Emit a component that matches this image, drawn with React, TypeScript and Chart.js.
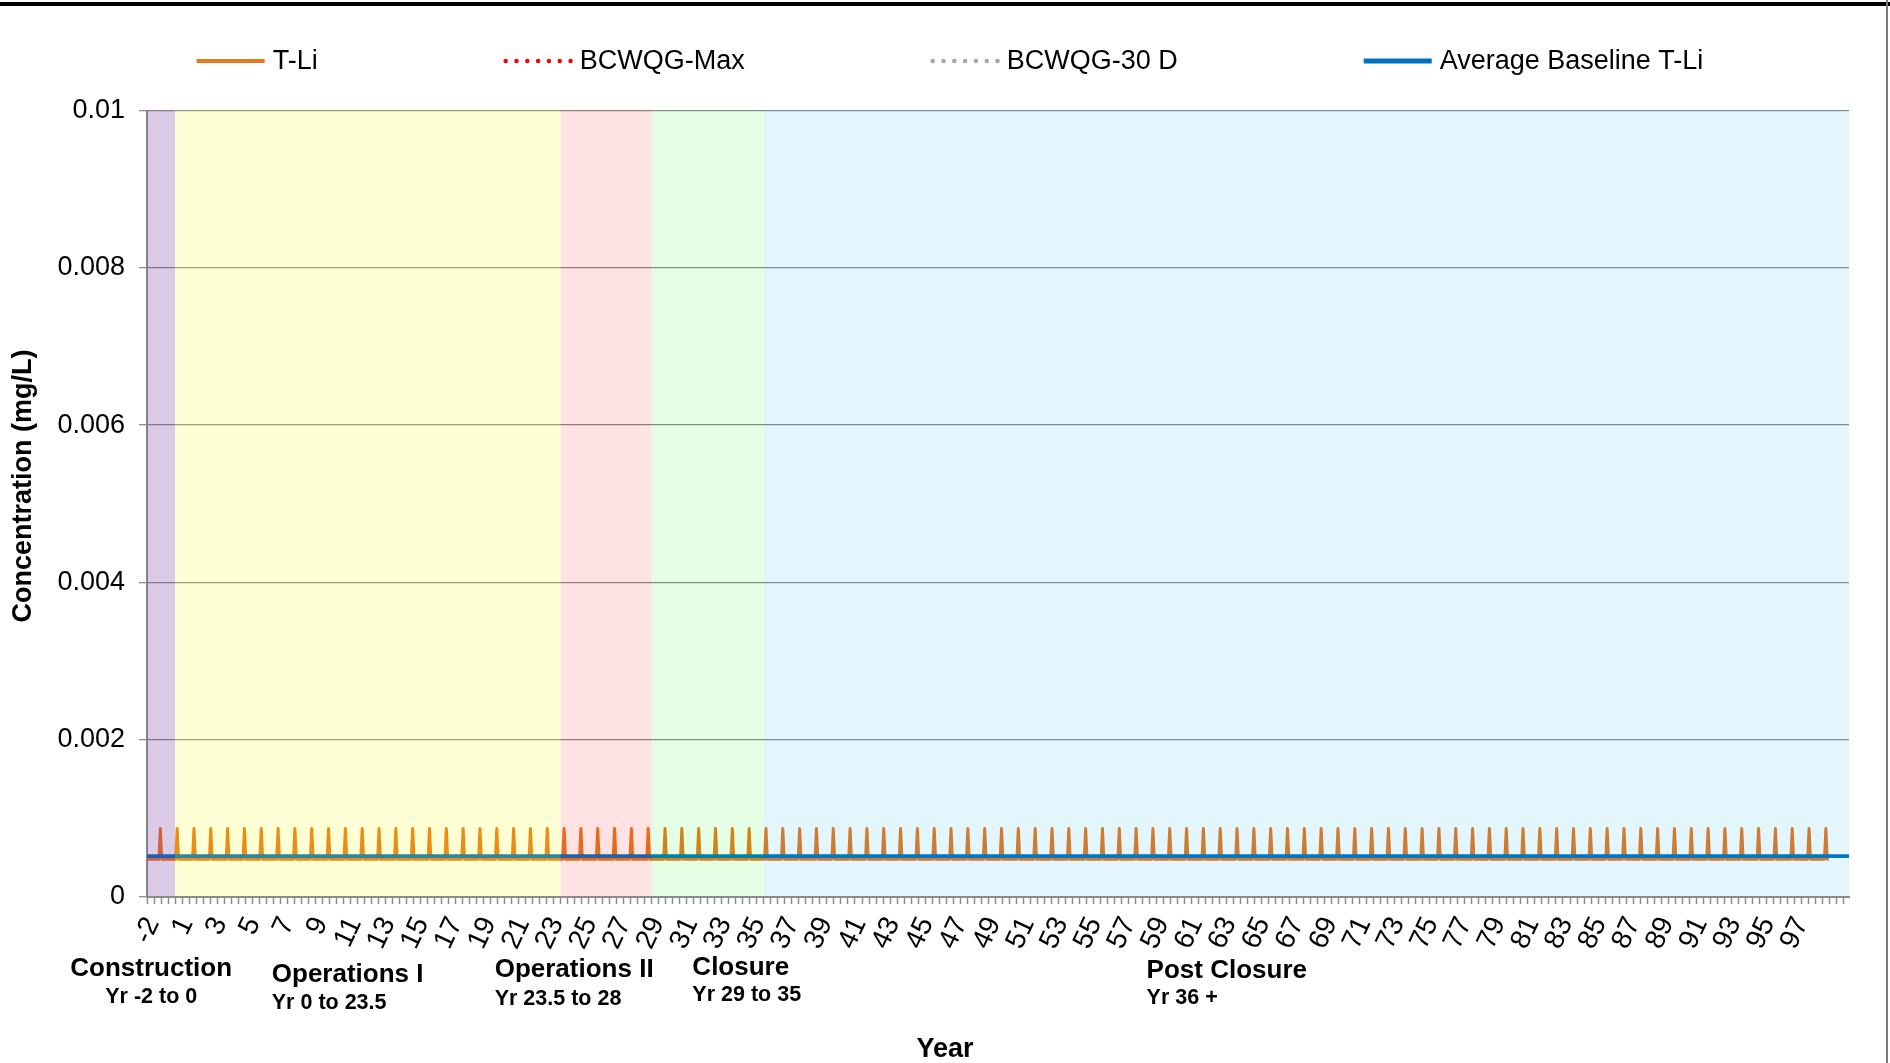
import React, { useEffect, useRef } from 'react';
import { Chart, registerables } from 'chart.js';

Chart.register(...registerables);

// ---------- data ----------
const seriesNames = ['T-Li', 'BCWQG-Max', 'BCWQG-30 D', 'Average Baseline T-Li'];

// x-axis tick labels (one every 24 monthly categories)
const xTickLabels = [
  '-2', '1', '3', '5', '7', '9', '11', '13', '15', '17', '19', '21', '23', '25', '27', '29', '31',
  '33', '35', '37', '39', '41', '43', '45', '47', '49', '51', '53', '55', '57', '59', '61', '63',
  '65', '67', '69', '71', '73', '75', '77', '79', '81', '83', '85', '87', '89', '91', '93', '95', '97',
];
const yTickLabels = ['0', '0.002', '0.004', '0.006', '0.008', '0.01'];

// T-Li (mg/L): yearly peak and low-flow level, one value per simulated year (100 years)
const tliPeak = [
  0.00087, 0.00087, 0.00087, 0.00087, 0.00087, 0.00087, 0.00087, 0.00087, 0.00087, 0.00087,
  0.00087, 0.00087, 0.00087, 0.00087, 0.00087, 0.00087, 0.00087, 0.00087, 0.00087, 0.00087,
  0.00087, 0.00087, 0.00087, 0.00087, 0.00087, 0.00087, 0.00087, 0.00087, 0.00087, 0.00087,
  0.00087, 0.00087, 0.00087, 0.00087, 0.00087, 0.00087, 0.00087, 0.00087, 0.00087, 0.00087,
  0.00087, 0.00087, 0.00087, 0.00087, 0.00087, 0.00087, 0.00087, 0.00087, 0.00087, 0.00087,
  0.00087, 0.00087, 0.00087, 0.00087, 0.00087, 0.00087, 0.00087, 0.00087, 0.00087, 0.00087,
  0.00087, 0.00087, 0.00087, 0.00087, 0.00087, 0.00087, 0.00087, 0.00087, 0.00087, 0.00087,
  0.00087, 0.00087, 0.00087, 0.00087, 0.00087, 0.00087, 0.00087, 0.00087, 0.00087, 0.00087,
  0.00087, 0.00087, 0.00087, 0.00087, 0.00087, 0.00087, 0.00087, 0.00087, 0.00087, 0.00087,
  0.00087, 0.00087, 0.00087, 0.00087, 0.00087, 0.00087, 0.00087, 0.00087, 0.00087, 0.00087,
];
const tliLow = [
  0.00048, 0.00048, 0.00048, 0.00048, 0.00048, 0.00048, 0.00048, 0.00048, 0.00048, 0.00048,
  0.00048, 0.00048, 0.00048, 0.00048, 0.00048, 0.00048, 0.00048, 0.00048, 0.00048, 0.00048,
  0.00048, 0.00048, 0.00048, 0.00048, 0.00048, 0.00048, 0.00048, 0.00048, 0.00048, 0.00048,
  0.00048, 0.00048, 0.00048, 0.00048, 0.00048, 0.00048, 0.00048, 0.00048, 0.00048, 0.00048,
  0.00048, 0.00048, 0.00048, 0.00048, 0.00048, 0.00048, 0.00048, 0.00048, 0.00048, 0.00048,
  0.00048, 0.00048, 0.00048, 0.00048, 0.00048, 0.00048, 0.00048, 0.00048, 0.00048, 0.00048,
  0.00048, 0.00048, 0.00048, 0.00048, 0.00048, 0.00048, 0.00048, 0.00048, 0.00048, 0.00048,
  0.00048, 0.00048, 0.00048, 0.00048, 0.00048, 0.00048, 0.00048, 0.00048, 0.00048, 0.00048,
  0.00048, 0.00048, 0.00048, 0.00048, 0.00048, 0.00048, 0.00048, 0.00048, 0.00048, 0.00048,
  0.00048, 0.00048, 0.00048, 0.00048, 0.00048, 0.00048, 0.00048, 0.00048, 0.00048, 0.00048,
];
const tliPeakMonth = 9; // month (0-11) of the yearly peak
const baselineTLi = [0.00052, 0.00052]; // constant average baseline, start & end of axis
const bcwqgMax: number[] = []; // guideline values lie above the plotted range
const bcwqg30d: number[] = [];

// mine phases (in monthly categories along the x axis)
const phaseNames = ['Construction', 'Operations I', 'Operations II', 'Closure', 'Post Closure'];
const phaseRanges = ['Yr -2 to 0', 'Yr 0 to 23.5', 'Yr 23.5 to 28', 'Yr 29 to 35', 'Yr 36 +'];
const phaseStarts = [0, 20, 295, 360, 440];
const axisEnd = 1214;

// ---------- styles / layout ----------
const FONT = '"Liberation Sans", Arial, sans-serif';
const phaseColors = [
  'rgba(112,48,160,0.25)',
  'rgba(255,255,0,0.16)',
  'rgba(255,0,0,0.11)',
  'rgba(0,255,0,0.10)',
  'rgba(0,176,240,0.11)',
];
const phaseLabelAt = [3, 89, 248, 389, 713];
const phaseLabelAlign: CanvasTextAlign[] = ['center', 'left', 'left', 'left', 'left'];
const phaseTitleDy = [72, 78, 73, 71, 74];
const phaseSubDy = [100, 106, 102, 98, 101];

const legendStyles = [
  { color: '#E8761A', width: 4, dash: [] as number[] },
  { color: '#FF0000', width: 4.5, dash: [0.01, 10.8] },
  { color: '#A6A6A6', width: 4.5, dash: [0.01, 10.8] },
  { color: '#0070C0', width: 5, dash: [] as number[] },
];

function buildTli() {
  const pts: { x: number; y: number }[] = [];
  tliPeak.forEach((peak, i) => {
    const m0 = i * 12;
    pts.push({ x: m0 + 0.5, y: tliLow[i] });
    pts.push({ x: m0 + tliPeakMonth - 0.5, y: tliLow[i] });
    pts.push({ x: m0 + tliPeakMonth + 0.5, y: peak });
    pts.push({ x: m0 + tliPeakMonth + 1.5, y: tliLow[i] });
  });
  pts.push({ x: tliPeak.length * 12 - 0.5, y: tliLow[tliLow.length - 1] });
  return pts;
}

const decorPlugin = {
  id: 'decor',
  afterDatasetsDraw(chart: any) {
    const { ctx, chartArea: ca, scales } = chart;
    const x = scales.x;
    ctx.save();
    phaseStarts.forEach((s, i) => {
      const e = i < phaseStarts.length - 1 ? phaseStarts[i + 1] : axisEnd;
      const x0 = x.getPixelForValue(s);
      const x1 = x.getPixelForValue(e);
      ctx.fillStyle = phaseColors[i];
      ctx.fillRect(x0, ca.top, x1 - x0, ca.bottom - ca.top - 1);
    });
    ctx.restore();
  },
  afterDraw(chart: any) {
    const { ctx, chartArea: ca, scales, width, height } = chart;
    const x = scales.x;
    ctx.save();
    // phase labels
    ctx.fillStyle = '#000';
    ctx.textBaseline = 'middle';
    phaseNames.forEach((name, i) => {
      const px = x.getPixelForValue(phaseLabelAt[i]);
      ctx.textAlign = phaseLabelAlign[i];
      ctx.font = `bold 26px ${FONT}`;
      ctx.fillText(name, px, ca.bottom + phaseTitleDy[i]);
      ctx.font = `bold 21.5px ${FONT}`;
      ctx.fillText(phaseRanges[i], px, ca.bottom + phaseSubDy[i]);
    });
    // axis titles
    ctx.font = `bold 27px ${FONT}`;
    ctx.textAlign = 'center';
    ctx.fillText('Year', width / 2, 1050);
    ctx.save();
    ctx.translate(24, 486);
    ctx.rotate(-Math.PI / 2);
    ctx.fillText('Concentration (mg/L)', 0, 0);
    ctx.restore();
    // legend
    ctx.font = `27px ${FONT}`;
    const lineLen = 68;
    const gap = 8;
    const itemGap = 186;
    const widths = seriesNames.map((n) => ctx.measureText(n).width);
    const total = widths.reduce((a, w) => a + lineLen + gap + w, 0) + itemGap * (seriesNames.length - 1);
    let cx = width / 2 + 5 - total / 2;
    const ly = 61;
    seriesNames.forEach((n, i) => {
      const st = legendStyles[i];
      ctx.save();
      ctx.strokeStyle = st.color;
      ctx.lineWidth = st.width;
      ctx.setLineDash(st.dash);
      ctx.lineCap = st.dash.length ? 'round' : 'butt';
      ctx.beginPath();
      ctx.moveTo(cx + (st.dash.length ? 2 : 0), ly);
      ctx.lineTo(cx + lineLen, ly);
      ctx.stroke();
      ctx.restore();
      ctx.textAlign = 'left';
      ctx.fillStyle = '#000';
      ctx.fillText(n, cx + lineLen + gap, ly + 1);
      cx += lineLen + gap + widths[i] + itemGap;
    });
    // frame
    ctx.fillStyle = '#000';
    ctx.fillRect(0, 2, width, 4);
    ctx.fillStyle = '#7a7a7a';
    ctx.fillRect(1886, 0, 2, height);
    ctx.restore();
  },
};

export default function App() {
  const ref = useRef<HTMLCanvasElement>(null);
  useEffect(() => {
    document.body.style.margin = '0';
    const chart = new Chart(ref.current as HTMLCanvasElement, {
      type: 'line',
      data: {
        datasets: [
          {
            label: seriesNames[0],
            data: buildTli(),
            borderColor: legendStyles[0].color,
            borderWidth: 3,
            pointRadius: 0,
            tension: 0,
            borderJoinStyle: 'round',
            order: 1,
          },
          {
            label: seriesNames[1],
            data: bcwqgMax.map((v, i) => ({ x: i, y: v })),
            borderColor: legendStyles[1].color,
            borderDash: [1, 8],
            borderWidth: 3,
            pointRadius: 0,
            order: 2,
          },
          {
            label: seriesNames[2],
            data: bcwqg30d.map((v, i) => ({ x: i, y: v })),
            borderColor: legendStyles[2].color,
            borderDash: [1, 8],
            borderWidth: 3,
            pointRadius: 0,
            order: 3,
          },
          {
            label: seriesNames[3],
            data: [
              { x: 0, y: baselineTLi[0] },
              { x: axisEnd, y: baselineTLi[1] },
            ],
            borderColor: legendStyles[3].color,
            borderWidth: 3.75,
            pointRadius: 0,
            order: 0,
          },
        ],
      } as any,
      options: {
        animation: false,
        responsive: false,
        devicePixelRatio: 1,
        layout: { padding: { top: 110.5, right: 41, bottom: 0, left: 0 } },
        plugins: { legend: { display: false }, tooltip: { enabled: false } },
        scales: {
          x: {
            type: 'linear',
            min: 0,
            max: axisEnd,
            afterBuildTicks: (scale: any) => {
              const vals: number[] = [];
              for (let m = 0; m <= axisEnd; m += 5) vals.push(m);
              xTickLabels.forEach((_, k) => vals.push(k * 24 + 0.5));
              vals.sort((a, b) => a - b);
              scale.ticks = vals.map((v) => ({ value: v }));
            },
            afterFit: (scale: any) => {
              scale.height = 166;
            },
            ticks: {
              autoSkip: false,
              minRotation: 65,
              maxRotation: 65,
              padding: 8,
              labelOffset: 5,
              color: '#000',
              font: { size: 28, family: FONT },
              callback: (value: any) => {
                const k = (Number(value) - 0.5) / 24;
                return Number.isInteger(k) && k >= 0 && k < xTickLabels.length ? xTickLabels[k] : '';
              },
            },
            grid: {
              display: true,
              drawOnChartArea: false,
              drawTicks: true,
              tickLength: 7,
              tickWidth: 1.5,
              tickColor: (c: any) => (c.tick && c.tick.value % 5 === 0 ? '#8c8c8c' : 'rgba(0,0,0,0)'),
            },
            border: { display: true, color: '#8c8c8c', width: 2 },
          },
          y: {
            min: 0,
            max: 0.01,
            afterFit: (scale: any) => {
              scale.width = 147;
            },
            ticks: {
              stepSize: 0.002,
              padding: 14,
              color: '#000',
              font: { size: 27, family: FONT },
              callback: (_v: any, i: number) => yTickLabels[i],
            },
            grid: {
              color: '#8c8c8c',
              lineWidth: 1.3,
              tickLength: 8,
              tickColor: '#8c8c8c',
            },
            border: { display: true, color: '#8c8c8c', width: 2 },
          },
        },
      } as any,
      plugins: [decorPlugin],
    });
    return () => chart.destroy();
  }, []);
  return (
    <div style={{ width: 1890, height: 1063, position: 'relative', background: '#fff' }}>
      <canvas ref={ref} width={1890} height={1063} style={{ display: 'block' }} />
    </div>
  );
}
